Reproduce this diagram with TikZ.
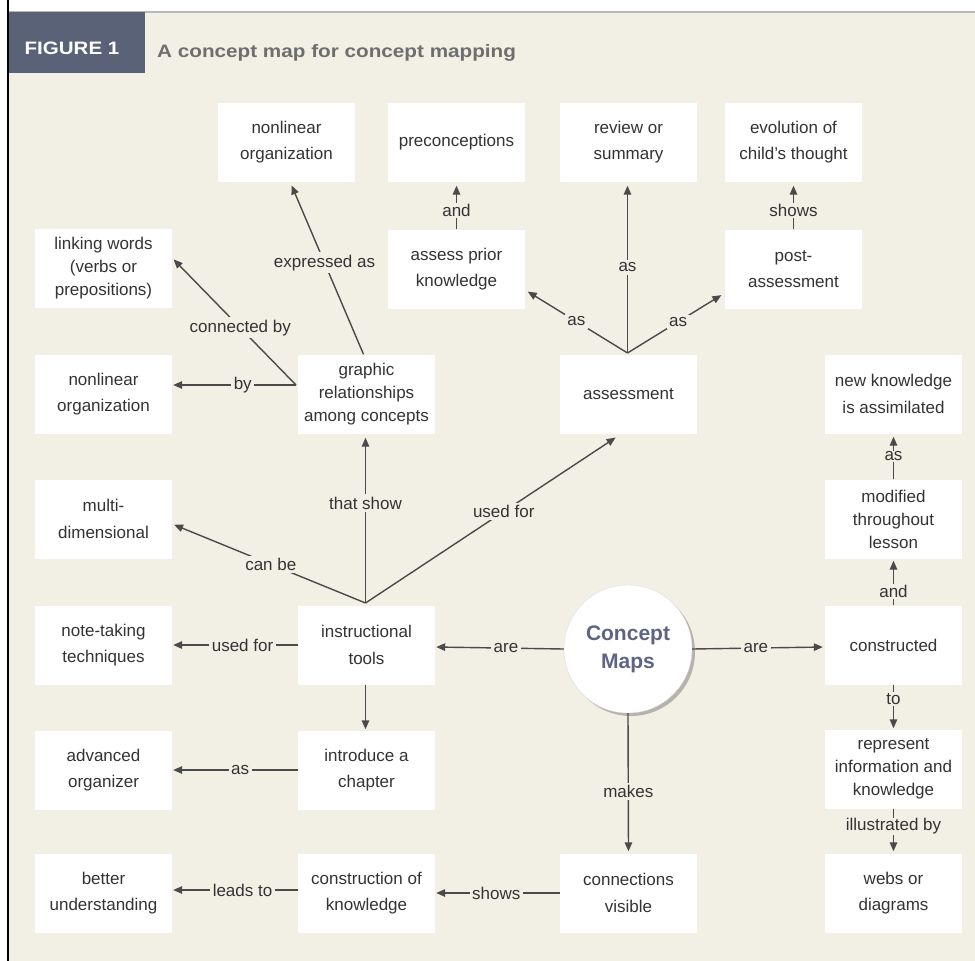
\documentclass[tikz,border=0pt]{standalone}
\usepackage{fontspec}
\setmainfont{Liberation Sans}
\usetikzlibrary{arrows.meta,shadows}
\definecolor{bg}{HTML}{F2EFE5}
\definecolor{ln}{HTML}{4A4A4A}
\definecolor{tx}{HTML}{333333}
\definecolor{hdr}{HTML}{5A6278}
\definecolor{cmt}{HTML}{5E6584}
\definecolor{ttl}{HTML}{6E6E6E}
\begin{document}
\begin{tikzpicture}[x=1pt,y=-1pt,
 box/.style={fill=white, minimum width=137pt, minimum height=79pt, align=center, text=tx, font=\fontsize{17}{26.5}\selectfont, inner sep=0pt},
 box3/.style={box, font=\fontsize{17}{23}\selectfont},
 lk/.style={draw=ln, line width=1.4pt, -{Triangle[length=9pt,width=7.5pt]}},
 lab/.style={fill=bg, text=tx, font=\fontsize{17}{20}\selectfont, inner sep=2.5pt},
]
\useasboundingbox (0,0) rectangle (975,961);
\fill[white] (0,0) rectangle (975,961);
\fill[bg] (8,12) rectangle (975,961);
\draw[gray!55, line width=1.5pt] (8,12) -- (975,12);
\draw[black, line width=1.5pt] (8,0) -- (8,961);
\node[fill=hdr, minimum width=136pt, minimum height=61pt, inner sep=0pt] (hd) at (77,42.5) {};
\node[text=white, font=\bfseries\fontsize{18}{18}\selectfont, inner sep=0pt] (fig) at (72,48.5) {\scalebox{1.14}[1]{FIGURE 1}};
\node[text=ttl, font=\bfseries\fontsize{18}{18}\selectfont, inner sep=0pt, anchor=base west] (title) at (157,57) {\scalebox{1.15}[1]{A concept map for concept mapping}};

% top row
\node[box] (nlo1) at (286.5,142) {nonlinear\\organization};
\node[box] (pre) at (456.5,142) {preconceptions};
\node[box] (rev) at (628.5,142) {review or\\summary};
\node[box] (evo) at (793.5,142) {evolution of\\child's thought};
% second row
\node[box3] (lw) at (103.5,268) {linking words\\(verbs or\\prepositions)};
\node[box] (apk) at (456.5,269) {assess prior\\knowledge};
\node[box] (pa) at (793.5,269) {post-\\assessment};
% third row
\node[box] (nlo2) at (103.5,394) {nonlinear\\organization};
\node[box3] (gr) at (366.5,394) {graphic\\relationships\\among concepts};
\node[box] (as) at (628.5,394) {assessment};
\node[box] (nk) at (893.5,394) {new knowledge\\is assimilated};
% fourth row
\node[box] (md) at (103.5,519) {multi-\\dimensional};
\node[box3] (mod) at (893.5,519) {modified\\throughout\\lesson};
% fifth row
\node[box] (nt) at (103.5,645) {note-taking\\techniques};
\node[box] (it) at (366.5,645) {instructional\\tools};
\node[box] (con) at (893.5,645) {constructed};
\node[circle, fill=white, draw=gray!25, minimum size=128pt, inner sep=0pt,
  drop shadow={shadow xshift=3pt,shadow yshift=-3pt,opacity=0.25,fill=black},
  align=center, text=cmt, font=\bfseries\fontsize{21}{27}\selectfont] (cm) at (628,649) {\raisebox{-4pt}{\begin{tabular}{@{}c@{}}Concept\\[1pt]Maps\end{tabular}}};
% sixth row
\node[box] (ao) at (103.5,770) {advanced\\organizer};
\node[box] (ic) at (366.5,770) {introduce a\\chapter};
\node[box3] (rep) at (893.5,769) {represent\\information and\\knowledge};
% bottom row
\node[box] (bu) at (103.5,893) {better\\understanding};
\node[box] (ck) at (366.5,893) {construction of\\knowledge};
\node[box] (cv) at (628.5,893) {connections\\visible};
\node[box] (web) at (893.5,893) {webs or\\diagrams};

% junction points
\coordinate (jG) at (296,385);
\coordinate (jI) at (365.5,603);
\coordinate (jA) at (627.5,353);

% graphic relationships
\draw[lk, shorten >=4pt] ([xshift=-3pt]gr.north) -- ([xshift=3.5pt]nlo1.south) node[lab, pos=0.53] {expressed as};
\draw[lk, shorten >=2pt] (jG) -- ([yshift=10pt]lw.east) node[lab, pos=0.45] {connected by};
\draw[lk, shorten >=1pt] (jG) -- ([yshift=9pt]nlo2.east) node[lab, pos=0.43] {by};
% instructional tools
\draw[lk, shorten >=4pt] (jI) -- ([xshift=-1pt]gr.south) node[lab, pos=0.59] {that show};
\draw[lk, shorten >=2pt] (jI) -- ([yshift=-5pt]md.east) node[lab, pos=0.49] {can be};
\draw[lk, shorten >=7pt] (jI) -- ([xshift=-7pt]as.south) node[lab, pos=0.54] {used for};
\draw[lk, shorten >=1pt] (it.west) -- (nt.east) node[lab, pos=0.44] {used for};
\draw[lk, shorten >=1pt] ([xshift=-1pt]it.south) -- ([xshift=-1pt]ic.north);
\draw[lk, shorten >=1pt] (ic.west) -- (ao.east) node[lab, pos=0.46] {as};
\draw[lk, shorten >=1pt] ([yshift=3pt]ck.west) -- ([yshift=3pt]bu.east) node[lab, pos=0.44] {leads to};
\draw[lk, shorten >=1pt] (cv.west) -- (ck.east) node[lab, pos=0.51] {shows};
% concept maps
\draw[lk, shorten >=1pt] (cm.west) -- ([yshift=-2pt]it.east) node[lab, pos=0.45] {are};
\draw[lk, shorten >=2pt] (cm.east) -- ([yshift=-2pt]con.west) node[lab, pos=0.48] {are};
\draw[lk, shorten >=2pt] (cm.south) -- (cv.north) node[lab, pos=0.56] {makes};
% right column
\draw[lk, shorten >=2pt] (con.north) -- (mod.south) node[lab, pos=0.3, inner sep=1pt] {and};
\draw[lk, shorten >=3pt] (mod.north) -- (nk.south) node[lab, pos=0.5, inner sep=1pt] {as};
\draw[lk, shorten >=1pt] (con.south) -- (rep.north) node[lab, pos=0.32, inner sep=1pt] {to};
\draw[lk, shorten >=2pt] (rep.south) -- (web.north) node[lab, pos=0.4, inner sep=1pt] {illustrated by};
% assessment
\draw[lk, shorten >=3pt] (jA) -- ([yshift=-21pt]apk.east) node[lab, pos=0.5] {as};
\draw[lk, shorten >=4pt] (jA) -- ([xshift=-1pt]rev.south) node[lab, pos=0.5] {as};
\draw[lk, shorten >=4pt] (jA) -- ([yshift=-24pt]pa.west) node[lab, pos=0.52] {as};
\draw[lk, shorten >=4pt] (apk.north) -- (pre.south) node[lab, pos=0.4, inner sep=1pt] {and};
\draw[lk, shorten >=4pt] (pa.north) -- (evo.south) node[lab, pos=0.4, inner sep=1pt] {shows};
\end{tikzpicture}
\end{document}
